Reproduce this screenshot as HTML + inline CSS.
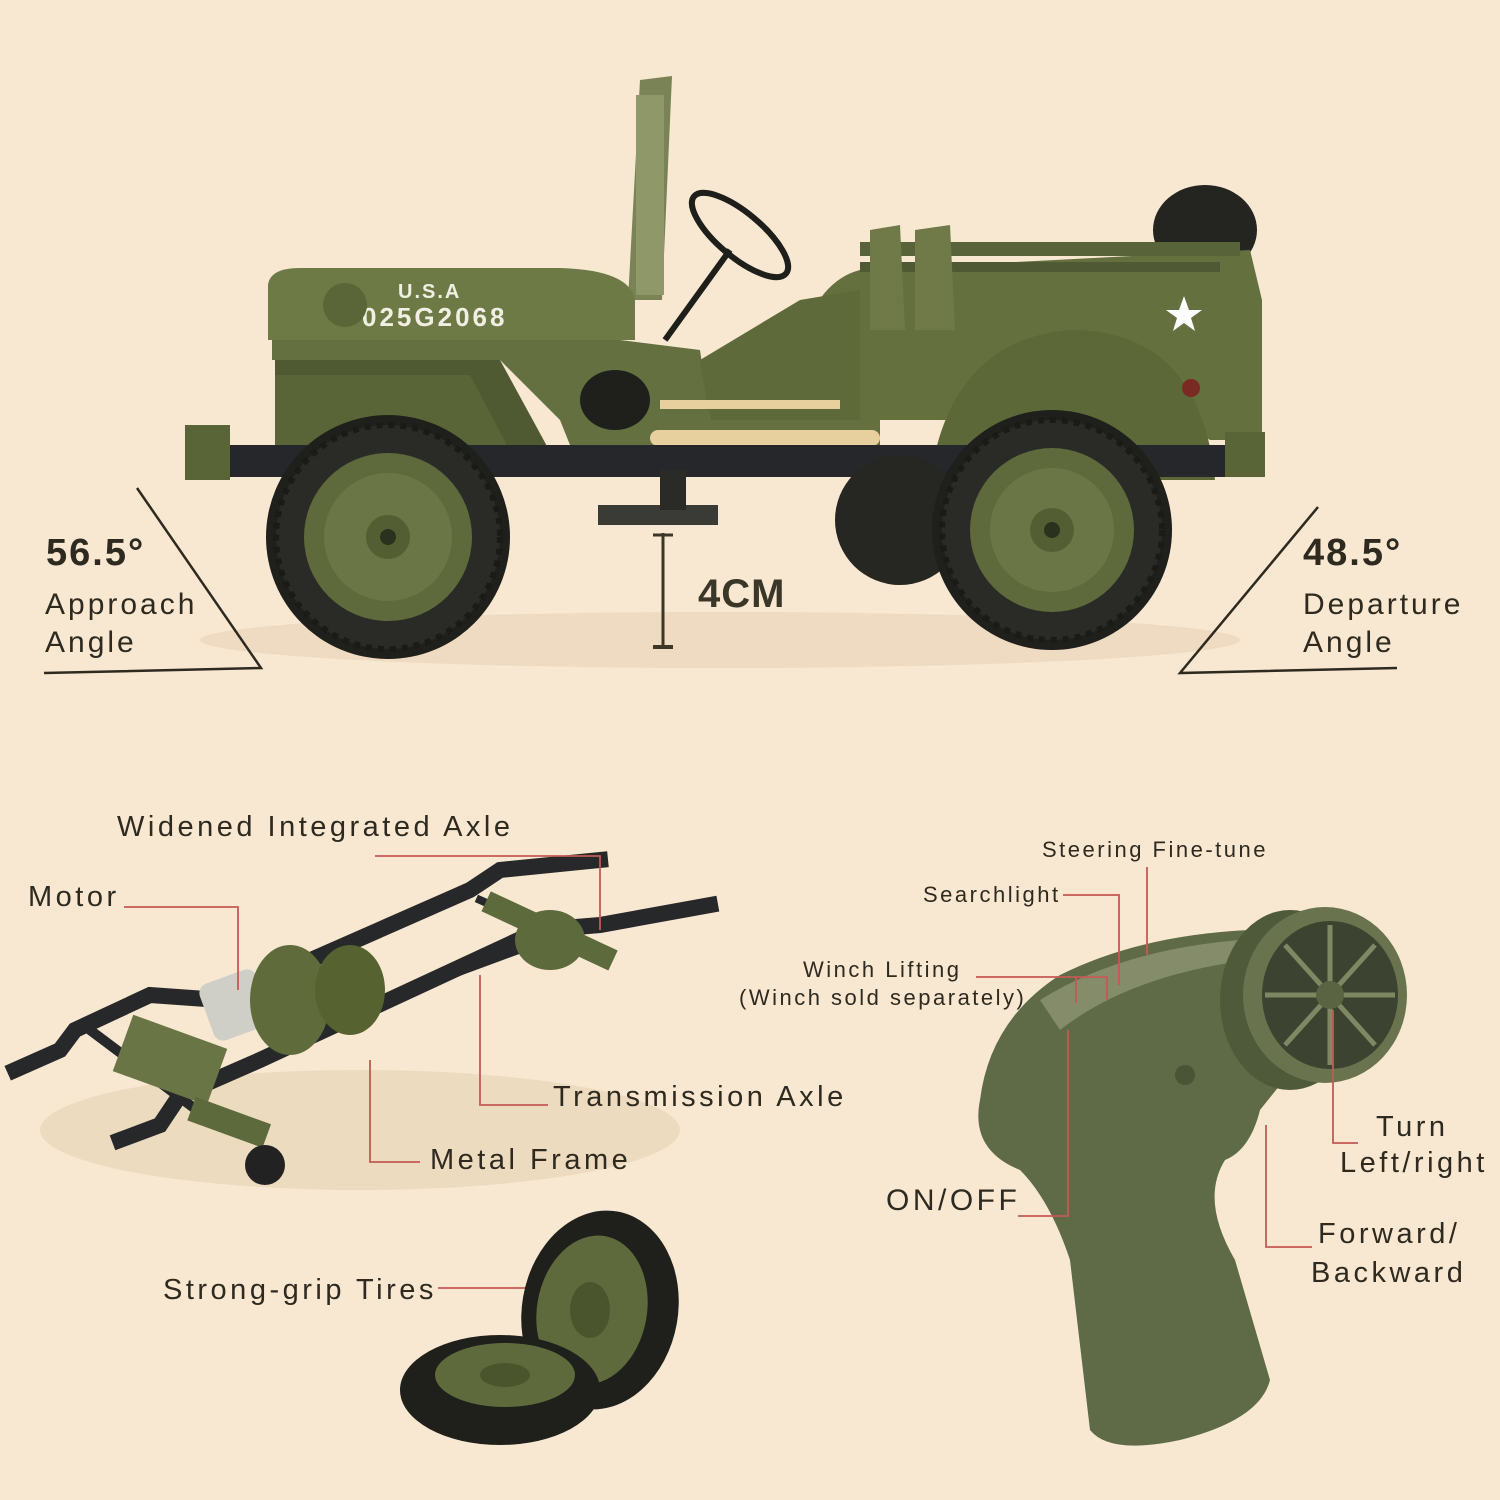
<!DOCTYPE html>
<html><head><meta charset="utf-8"><style>
html,body{margin:0;padding:0;background:#f8e8d2}
svg{display:block}
text{font-family:"Liberation Sans",sans-serif;fill:#2e2a20;letter-spacing:3.5px}
.s{letter-spacing:2.5px}
.a{letter-spacing:3px}
</style></head><body>
<svg width="1500" height="1500" viewBox="0 0 1500 1500" xmlns="http://www.w3.org/2000/svg">
<rect width="1500" height="1500" fill="#f8e8d2"/>

<!-- ===== JEEP ===== -->
<ellipse cx="720" cy="640" rx="520" ry="28" fill="#e9d6bb" opacity="0.7"/>
<path d="M628 300 L640 80 L672 76 L662 300 Z" fill="#7a8356"/>
<rect x="636" y="95" width="28" height="200" fill="#8f9868"/>
<ellipse cx="740" cy="235" rx="60" ry="22" transform="rotate(40 740 235)" fill="none" stroke="#1e1e1a" stroke-width="6"/>
<line x1="730" y1="250" x2="665" y2="340" stroke="#1e1e1a" stroke-width="6"/>
<ellipse cx="1205" cy="230" rx="52" ry="45" fill="#242420"/>
<path d="M800 340 Q820 280 860 270 L1250 250 L1262 300 L1262 440 L1210 440 L1180 420 L860 420 Z" fill="#65703f"/>
<rect x="860" y="242" width="380" height="14" fill="#58633a"/>
<rect x="860" y="262" width="360" height="10" fill="#4f5a34"/>
<path d="M870 230 L900 225 L905 330 L870 330Z" fill="#707a48"/>
<path d="M915 230 L950 225 L955 330 L915 330Z" fill="#707a48"/>
<path d="M930 480 Q950 340 1070 330 Q1200 330 1215 480 Z" fill="#5d6839"/>
<polygon points="1184,296 1189,310 1202,310 1191,318 1195,331 1184,323 1173,331 1177,318 1166,310 1179,310" fill="#fff"/>
<circle cx="1191" cy="388" r="9" fill="#7a2a22"/>
<path d="M268 285 Q270 268 300 268 L560 268 Q630 270 635 300 L635 340 L268 340 Z" fill="#6e7a45"/>
<text x="398" y="298" font-family="Liberation Serif" font-weight="bold" font-size="20" style="fill:#f1efe4;letter-spacing:2px">U.S.A</text>
<text x="362" y="326" font-family="Liberation Serif" font-weight="bold" font-size="26" style="fill:#f1efe4;letter-spacing:3px">025G2068</text>
<circle cx="345" cy="305" r="22" fill="#5b6638"/>
<path d="M272 340 L620 340 L700 350 L710 420 L880 420 L880 470 L580 470 L560 420 L500 360 L272 360 Z" fill="#64703f"/>
<path d="M275 360 L500 360 L560 470 L275 470 Z" fill="#4f5a32"/>
<path d="M275 375 L470 375 L520 470 L275 470 Z" fill="#5a6537"/>
<path d="M700 360 L800 300 L860 290 L860 420 L710 420 Z" fill="#5f6a3b"/>
<rect x="660" y="400" width="180" height="9" fill="#e8cf9e"/>
<rect x="650" y="430" width="230" height="16" rx="8" fill="#e8cf9e"/>
<ellipse cx="615" cy="400" rx="35" ry="30" fill="#1f1f1c"/>
<rect x="225" y="445" width="1030" height="32" fill="#26272a"/>
<rect x="185" y="425" width="45" height="55" fill="#5a6537"/>
<rect x="1225" y="432" width="40" height="45" fill="#5a6537"/>
<rect x="598" y="505" width="120" height="20" fill="#3a3a36"/>
<rect x="660" y="470" width="26" height="40" fill="#2a2a27"/>
<g>
<circle cx="388" cy="537" r="122" fill="#1f1f1c"/>
<circle cx="388" cy="537" r="112" fill="#2a2a26" stroke="#1a1a17" stroke-width="6" stroke-dasharray="6 6"/>
<circle cx="388" cy="537" r="84" fill="#5e6a3c"/>
<circle cx="388" cy="537" r="64" fill="#6a7645"/>
<circle cx="388" cy="537" r="22" fill="#535e33"/>
<circle cx="388" cy="537" r="8" fill="#2c301f"/>
</g>
<circle cx="900" cy="520" r="65" fill="#262622"/>
<g>
<circle cx="1052" cy="530" r="120" fill="#1f1f1c"/>
<circle cx="1052" cy="530" r="110" fill="#2a2a26" stroke="#1a1a17" stroke-width="6" stroke-dasharray="6 6"/>
<circle cx="1052" cy="530" r="82" fill="#5e6a3c"/>
<circle cx="1052" cy="530" r="62" fill="#6a7645"/>
<circle cx="1052" cy="530" r="22" fill="#535e33"/>
<circle cx="1052" cy="530" r="8" fill="#2c301f"/>
</g>

<polyline points="137,488 261,668 44,673" fill="none" stroke="#2e2a20" stroke-width="2.5"/>
<polyline points="1318,507 1180,673 1397,668" fill="none" stroke="#2e2a20" stroke-width="2.5"/>
<text x="46" y="565" font-size="38" font-weight="bold" style="letter-spacing:2px">56.5°</text>
<text x="45" y="614" font-size="30" class="a">Approach</text>
<text x="45" y="652" font-size="30" class="a">Angle</text>
<text x="1303" y="565" font-size="38" font-weight="bold" style="letter-spacing:2px">48.5°</text>
<text x="1303" y="614" font-size="30" class="a">Departure</text>
<text x="1303" y="652" font-size="30" class="a">Angle</text>
<line x1="663" y1="533" x2="663" y2="648" stroke="#3a3628" stroke-width="3"/>
<line x1="653" y1="535" x2="673" y2="535" stroke="#3a3628" stroke-width="3"/>
<line x1="653" y1="647" x2="673" y2="647" stroke="#3a3628" stroke-width="4"/>
<text x="698" y="607" font-size="40" font-weight="bold" style="fill:#3a3628;letter-spacing:1px">4CM</text>

<!-- ===== CHASSIS ===== -->
<ellipse cx="360" cy="1130" rx="320" ry="60" fill="#ead7bc" opacity="0.8"/>
<g stroke="#27282a" stroke-linecap="square" fill="none">
<polyline points="15,1070 60,1050 75,1030 150,995 220,1000 470,890 500,870 600,860" stroke-width="16"/>
<polyline points="120,1140 160,1125 180,1095 260,1060 540,930 600,925 710,905" stroke-width="16"/>
<line x1="90" y1="1030" x2="190" y2="1105" stroke-width="10"/>
<line x1="480" y1="900" x2="570" y2="940" stroke-width="8"/>
<line x1="330" y1="1020" x2="520" y2="950" stroke-width="7"/>
</g>
<g fill="#5d6a3c">
<rect x="205" y="975" width="60" height="60" rx="10" transform="rotate(-20 235 1005)" fill="#cfcfc8"/>
<ellipse cx="290" cy="1000" rx="40" ry="55" fill="#5f6b3b"/>
<ellipse cx="350" cy="990" rx="35" ry="45" fill="#56622f"/>
<ellipse cx="550" cy="940" rx="35" ry="30"/>
<rect x="480" y="920" width="140" height="22" transform="rotate(25 550 930)"/>
<rect x="120" y="1030" width="100" height="60" transform="rotate(20 170 1060)" fill="#6a7546"/>
<rect x="190" y="1110" width="80" height="25" transform="rotate(20 230 1120)"/>
</g>
<circle cx="265" cy="1165" r="20" fill="#222"/>
<ellipse cx="600" cy="1310" rx="78" ry="100" transform="rotate(10 600 1310)" fill="#1f1f1c"/>
<ellipse cx="592" cy="1310" rx="55" ry="75" transform="rotate(10 592 1310)" fill="#5e6a3c"/>
<ellipse cx="590" cy="1310" rx="20" ry="28" fill="#4a552e"/>
<ellipse cx="500" cy="1390" rx="100" ry="55" fill="#1f1f1c"/>
<ellipse cx="505" cy="1375" rx="70" ry="32" fill="#5e6a3c"/>
<ellipse cx="505" cy="1375" rx="25" ry="12" fill="#4a552e"/>

<!-- ===== REMOTE ===== -->
<path d="M980 1100 Q990 1020 1060 975 Q1140 935 1250 930 L1300 1060 L1260 1110 Q1250 1150 1225 1160 Q1200 1200 1235 1260 L1270 1380 Q1260 1420 1180 1440 Q1110 1455 1090 1430 L1070 1260 Q1050 1200 1020 1170 Q970 1150 980 1100 Z" fill="#5f6a46"/>
<path d="M1040 1000 Q1120 950 1240 940 L1250 960 Q1130 975 1060 1030 Z" fill="#848c69"/>
<circle cx="1185" cy="1075" r="10" fill="#4a5437"/>
<ellipse cx="1290" cy="1000" rx="70" ry="90" fill="#4f5a3a"/>
<ellipse cx="1325" cy="995" rx="82" ry="88" fill="#69744f"/>
<ellipse cx="1330" cy="995" rx="68" ry="74" fill="#3c4330"/>
<g stroke="#7f8862" stroke-width="5">
<line x1="1330" y1="925" x2="1330" y2="1065"/><line x1="1265" y1="995" x2="1395" y2="995"/>
<line x1="1285" y1="945" x2="1375" y2="1045"/><line x1="1375" y1="945" x2="1285" y2="1045"/>
</g>
<circle cx="1330" cy="995" r="14" fill="#5a6443"/>

<!-- ===== LEADERS ===== -->
<g stroke="#c35a55" stroke-width="1.8" fill="none">
<polyline points="375,856 600,856 600,930"/>
<polyline points="124,907 238,907 238,990"/>
<polyline points="548,1105 480,1105 480,975"/>
<polyline points="420,1162 370,1162 370,1060"/>
<polyline points="438,1288 525,1288"/>
<polyline points="1147,867 1147,955"/>
<polyline points="1063,895 1119,895 1119,985"/>
<polyline points="976,977 1107,977 1107,1000"/>
<polyline points="1076,977 1076,1003"/>
<polyline points="1018,1216 1068,1216 1068,1030"/>
<polyline points="1358,1143 1333,1143 1333,1010"/>
<polyline points="1312,1247 1266,1247 1266,1125"/>
</g>

<!-- ===== LABELS ===== -->
<text x="117" y="836" font-size="29">Widened Integrated Axle</text>
<text x="28" y="906" font-size="29">Motor</text>
<text x="553" y="1106" font-size="29">Transmission Axle</text>
<text x="430" y="1169" font-size="29">Metal Frame</text>
<text x="163" y="1299" font-size="29">Strong-grip Tires</text>
<text x="1042" y="857" font-size="22" class="s">Steering Fine-tune</text>
<text x="923" y="902" font-size="22" class="s">Searchlight</text>
<text x="803" y="977" font-size="22" class="s">Winch Lifting</text>
<text x="739" y="1005" font-size="22" class="s">(Winch sold separately)</text>
<text x="886" y="1210" font-size="30">ON/OFF</text>
<text x="1376" y="1136" font-size="29">Turn</text>
<text x="1340" y="1172" font-size="29">Left/right</text>
<text x="1318" y="1243" font-size="29">Forward/</text>
<text x="1311" y="1282" font-size="29">Backward</text>
</svg>
</body></html>
